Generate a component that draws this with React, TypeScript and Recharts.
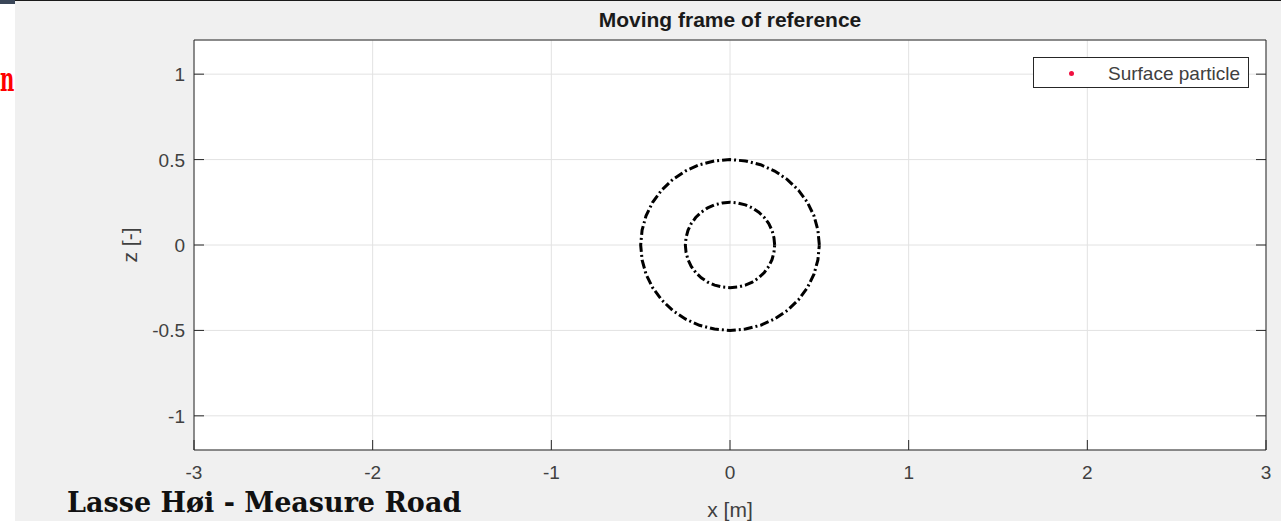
import React from 'react';
import {
  ComposedChart,
  Line,
  Scatter,
  XAxis,
  YAxis,
  CartesianGrid,
  Legend,
} from 'recharts';

// tick values
const xTicks = [-3, -2, -1, 0, 1, 2, 3];
const zTicks = [-1, -0.5, 0, 0.5, 1];

// outer ring (r = 0.5), every 10 degrees
const outerX = [
  0.5, 0.492, 0.47, 0.433, 0.383, 0.321, 0.25, 0.171, 0.087, 0, -0.087, -0.171, -0.25, -0.321, -0.383, -0.433,
  -0.47, -0.492, -0.5, -0.492, -0.47, -0.433, -0.383, -0.321, -0.25, -0.171, -0.087, 0, 0.087, 0.171, 0.25,
  0.321, 0.383, 0.433, 0.47, 0.492, 0.5,
];
const outerZ = [
  0, 0.087, 0.171, 0.25, 0.321, 0.383, 0.433, 0.47, 0.492, 0.5, 0.492, 0.47, 0.433, 0.383, 0.321, 0.25, 0.171,
  0.087, 0, -0.087, -0.171, -0.25, -0.321, -0.383, -0.433, -0.47, -0.492, -0.5, -0.492, -0.47, -0.433, -0.383,
  -0.321, -0.25, -0.171, -0.087, 0,
];

// inner ring (r = 0.25)
const innerX = [
  0.25, 0.246, 0.235, 0.217, 0.192, 0.161, 0.125, 0.086, 0.043, 0, -0.043, -0.086, -0.125, -0.161, -0.192,
  -0.217, -0.235, -0.246, -0.25, -0.246, -0.235, -0.217, -0.192, -0.161, -0.125, -0.086, -0.043, 0, 0.043,
  0.086, 0.125, 0.161, 0.192, 0.217, 0.235, 0.246, 0.25,
];
const innerZ = [
  0, 0.043, 0.086, 0.125, 0.161, 0.192, 0.217, 0.235, 0.246, 0.25, 0.246, 0.235, 0.217, 0.192, 0.161, 0.125,
  0.086, 0.043, 0, -0.043, -0.086, -0.125, -0.161, -0.192, -0.217, -0.235, -0.246, -0.25, -0.246, -0.235,
  -0.217, -0.192, -0.161, -0.125, -0.086, -0.043, 0,
];

const particle: { x: number; z: number }[] = [];

const outerRing = outerX.map((x, i) => ({ x, z: outerZ[i] }));
const innerRing = innerX.map((x, i) => ({ x, z: innerZ[i] }));

const AXIS = '#262626';
const TEXT = '#404040';
const TICK_LEN = 10;
const SANS = '"Liberation Sans", Arial, Helvetica, sans-serif';

const BottomTick = (props: any) => {
  const { x, y, payload } = props;
  return (
    <g>
      <line x1={x} x2={x} y1={y} y2={y - TICK_LEN} stroke={AXIS} />
      <text x={x} y={y + 29} textAnchor="middle" fontSize={19} fill={TEXT}>
        {payload.value}
      </text>
    </g>
  );
};

const TopTick = (props: any) => {
  const { x, y } = props;
  return <line x1={x} x2={x} y1={y} y2={y + TICK_LEN} stroke={AXIS} />;
};

const LeftTick = (props: any) => {
  const { x, y, payload } = props;
  return (
    <g>
      <line x1={x} x2={x + TICK_LEN} y1={y} y2={y} stroke={AXIS} />
      <text x={x - 9} y={y + 7} textAnchor="end" fontSize={19} fill={TEXT}>
        {payload.value}
      </text>
    </g>
  );
};

const RightTick = (props: any) => {
  const { x, y } = props;
  return <line x1={x} x2={x - TICK_LEN} y1={y} y2={y} stroke={AXIS} />;
};

const LegendBox = (props: any) => {
  const items = (props.payload || []).filter((p: any) => p.type !== 'none');
  return (
    <div
      style={{
        width: 216,
        height: 31,
        boxSizing: 'border-box',
        border: `1px solid ${AXIS}`,
        background: '#fff',
        position: 'relative',
        fontFamily: SANS,
        fontSize: 19,
        color: TEXT,
      }}
    >
      {items.map((p: any) => (
        <React.Fragment key={p.value}>
          <span
            style={{
              position: 'absolute',
              left: 35,
              top: 13,
              width: 5,
              height: 5,
              borderRadius: '50%',
              background: p.color,
            }}
          />
          <span style={{ position: 'absolute', left: 74, top: 6, lineHeight: '19px', whiteSpace: 'nowrap' }}>
            {p.value}
          </span>
        </React.Fragment>
      ))}
    </div>
  );
};

export default function App() {
  return (
    <div
      style={{
        position: 'absolute',
        left: 0,
        top: 0,
        width: 1281,
        height: 521,
        background: '#f0f0f0',
        overflow: 'hidden',
        fontFamily: SANS,
      }}
    >
      {/* page edge bits around the figure */}
      <div style={{ position: 'absolute', left: 0, top: 0, width: 15, height: 521, background: '#fff' }} />
      <div style={{ position: 'absolute', left: 0, top: 0, width: 15, height: 4, background: '#3a4658' }} />
      <div style={{ position: 'absolute', left: 15, top: 0, width: 1266, height: 1, background: '#1a1a1a' }} />
      <div
        style={{
          position: 'absolute',
          left: 0,
          top: 62,
          fontFamily: '"DejaVu Serif", serif',
          fontWeight: 'bold',
          fontSize: 34,
          lineHeight: '34px',
          color: '#ff0000',
          transform: 'scaleX(0.58)',
          transformOrigin: 'left top',
          whiteSpace: 'nowrap',
        }}
      >
        n
      </div>

      <ComposedChart width={1281} height={521} margin={{ top: 0, right: 0, bottom: 0, left: 0 }}>
        <CartesianGrid xAxisId="b" yAxisId="l" stroke="#e2e2e2" fill="#ffffff" />
        <XAxis
          xAxisId="b"
          type="number"
          dataKey="x"
          domain={[-3, 3]}
          ticks={xTicks}
          allowDataOverflow
          height={71}
          tickSize={0}
          tickMargin={0}
          tickLine={false}
          axisLine={{ stroke: AXIS }}
          tick={<BottomTick />}
          interval={0}
          label={{ value: 'x [m]', position: 'insideBottom', offset: 4, fontSize: 21, fill: TEXT }}
        />
        <XAxis
          xAxisId="t"
          orientation="top"
          type="number"
          domain={[-3, 3]}
          ticks={xTicks}
          allowDataOverflow
          height={40}
          tickSize={0}
          tickMargin={0}
          tickLine={false}
          axisLine={{ stroke: AXIS }}
          tick={<TopTick />}
          interval={0}
        />
        <YAxis
          yAxisId="l"
          type="number"
          dataKey="z"
          domain={[-1.2, 1.2]}
          ticks={zTicks}
          allowDataOverflow
          width={194}
          tickSize={0}
          tickMargin={0}
          tickLine={false}
          axisLine={{ stroke: AXIS }}
          tick={<LeftTick />}
          interval={0}
          label={{
            value: 'z [-]',
            angle: -90,
            position: 'insideLeft',
            offset: 130,
            fontSize: 21,
            fill: TEXT,
            style: { textAnchor: 'middle' },
          }}
        />
        <YAxis
          yAxisId="r"
          orientation="right"
          type="number"
          domain={[-1.2, 1.2]}
          ticks={zTicks}
          allowDataOverflow
          width={15}
          tickSize={0}
          tickMargin={0}
          tickLine={false}
          axisLine={{ stroke: AXIS }}
          tick={<RightTick />}
          interval={0}
        />
        <Line
          xAxisId="b"
          yAxisId="l"
          data={outerRing}
          dataKey="z"
          type="linear"
          stroke="#000"
          strokeWidth={3}
          strokeDasharray="9 3 2 3"
          dot={false}
          activeDot={false}
          legendType="none"
          isAnimationActive={false}
        />
        <Line
          xAxisId="b"
          yAxisId="l"
          data={innerRing}
          dataKey="z"
          type="linear"
          stroke="#000"
          strokeWidth={3}
          strokeDasharray="9 3 2 3"
          dot={false}
          activeDot={false}
          legendType="none"
          isAnimationActive={false}
        />
        <Scatter
          xAxisId="b"
          yAxisId="l"
          name="Surface particle"
          data={particle}
          dataKey="z"
          fill="#f01040"
          isAnimationActive={false}
        />
        <Legend
          layout="horizontal"
          verticalAlign="middle"
          align="center"
          content={<LegendBox />}
          wrapperStyle={{ left: 1033, top: 57, width: 216, height: 31 }}
        />
      </ComposedChart>

      <div
        style={{
          position: 'absolute',
          left: 194,
          top: 9,
          width: 1072,
          textAlign: 'center',
          fontSize: 21,
          lineHeight: '21px',
          fontWeight: 'bold',
          color: '#1a1a1a',
        }}
      >
        Moving frame of reference
      </div>
      <div
        style={{
          position: 'absolute',
          left: 67,
          top: 489,
          fontFamily: '"DejaVu Serif", serif',
          fontWeight: 'bold',
          fontSize: 27,
          lineHeight: '27px',
          whiteSpace: 'nowrap',
          color: '#111',
        }}
      >
        Lasse Høi - Measure Road
      </div>
    </div>
  );
}
